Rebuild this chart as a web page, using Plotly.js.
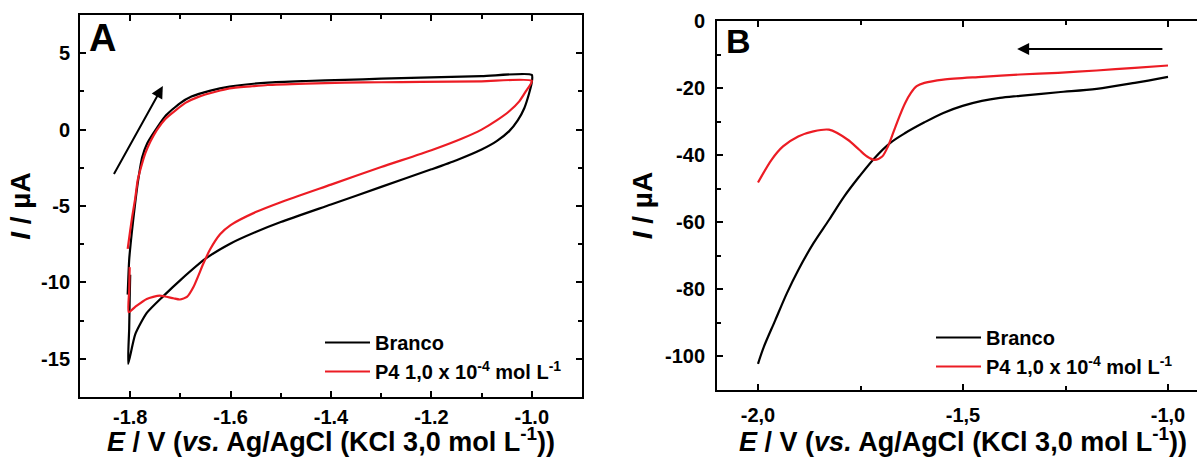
<!DOCTYPE html>
<html>
<head>
<meta charset="utf-8">
<script src="https://cdn.plot.ly/plotly-3.0.1.min.js"></script>
<style>
html, body { margin: 0; padding: 0; overflow: hidden; background: #fff; }
#chart { width: 1215px; height: 457px; }
</style>
</head>
<body>
<div id="chart"></div>
<script>
// ---------- Panel A: cyclic voltammograms ----------
const seriesNames = ['Branco', 'P4 1,0 x 10<sup>-4</sup> mol L<sup>-1</sup>'];

const aBrancoE = [-1.805, -1.802, -1.797, -1.791, -1.785, -1.776, -1.766, -1.754, -1.731, -1.701, -1.678, -1.640, -1.602, -1.526, -1.450, -1.373, -1.300, -1.221, -1.100, -1.000,
  -1.000, -1.006, -1.015, -1.028, -1.045, -1.070, -1.100, -1.150, -1.200, -1.300, -1.400, -1.500, -1.550, -1.600, -1.650, -1.700, -1.734, -1.767, -1.790, -1.804,
  -1.802, -1.801, -1.800];
const aBrancoI = [-10.8, -8.5, -6.8, -5.05, -3.5, -1.8, -0.9, -0.25, 0.85, 1.72, 2.16, 2.55, 2.81, 3.08, 3.18, 3.25, 3.33, 3.40, 3.50, 3.58,
  3.10, 2.3, 1.4, 0.6, -0.1, -0.75, -1.3, -2.0, -2.6, -3.75, -4.9, -6.05, -6.7, -7.45, -8.45, -9.85, -10.9, -12.0, -13.4, -15.33,
  -13.0, -11.0, -9.5];

const aP4E = [-1.805, -1.800, -1.796, -1.790, -1.785, -1.777, -1.770, -1.760, -1.747, -1.730, -1.709, -1.690, -1.663, -1.630, -1.602, -1.560, -1.526, -1.450, -1.373, -1.300, -1.221, -1.100, -1.000,
  -1.012, -1.025, -1.045, -1.070, -1.100, -1.140, -1.200, -1.300, -1.400, -1.500, -1.550, -1.600, -1.621, -1.641, -1.654, -1.674, -1.687, -1.701, -1.714, -1.741, -1.767, -1.790, -1.803,
  -1.802, -1.801];
const aP4I = [-7.8, -6.6, -5.7, -4.5, -3.3, -2.3, -1.56, -0.8, -0.03, 0.7, 1.28, 1.75, 2.16, 2.48, 2.70, 2.83, 2.92, 3.01, 3.08, 3.10, 3.12, 3.16, 3.19,
  2.5, 1.85, 1.2, 0.6, 0.0, -0.6, -1.35, -2.45, -3.6, -4.75, -5.4, -6.25, -6.85, -7.85, -8.75, -10.3, -10.95, -11.12, -11.04, -10.86, -11.08, -11.6, -11.95,
  -10.5, -9.0];

const aTickVals = [-1.8, -1.6, -1.4, -1.2, -1.0];
const aTickText = ['-1.8', '-1.6', '-1.4', '-1.2', '-1.0'];
const aMinorX = [-1.9, -1.7, -1.5, -1.3, -1.1, -0.9];
const aYTickVals = [5, 0, -5, -10, -15];
const aYTickText = ['5', '0', '-5', '-10', '-15'];
const aMinorY = [7.5, 2.5, -2.5, -7.5, -12.5, -17.5];

// ---------- Panel B: linear sweep voltammograms ----------
const bBrancoE = [-1.000, -1.081, -1.174, -1.268, -1.361, -1.410, -1.454, -1.501, -1.548, -1.594, -1.641, -1.678, -1.716, -1.753, -1.790, -1.827, -1.865, -1.902, -1.930, -1.958, -1.986, -2.000];
const bBrancoI = [-16.65, -18.44, -20.24, -21.24, -22.3, -22.9, -23.8, -25.3, -27.4, -30.2, -33.4, -36.39, -40.88, -46.36, -52.34, -59.32, -66.30, -74.28, -81.26, -89.23, -97.21, -102.2];

const bP4E = [-1.000, -1.081, -1.174, -1.268, -1.361, -1.454, -1.548, -1.594, -1.613, -1.627, -1.641, -1.655, -1.669, -1.683, -1.697, -1.716, -1.734, -1.753, -1.781, -1.827, -1.865, -1.902, -1.939, -1.967, -2.000];
const bP4I = [-13.26, -13.96, -14.76, -15.45, -15.95, -16.65, -17.45, -18.44, -19.44, -21.44, -24.43, -28.41, -32.90, -37.39, -40.38, -41.38, -40.38, -38.39, -35.39, -32.40, -32.90, -34.40, -37.39, -41.38, -48.16];

const bTickVals = [-2.0, -1.5, -1.0];
const bTickText = ['-2,0', '-1,5', '-1,0'];
const bMinorX = [-1.75, -1.25];
const bYTickVals = [0, -20, -40, -60, -80, -100];
const bYTickText = ['0', '-20', '-40', '-60', '-80', '-100'];
const bMinorY = [-10, -30, -50, -70, -90, -110];

const xTitleText = '<i>E</i> / V (<i>vs.</i> Ag/AgCl (KCl 3,0 mol L<sup>-1</sup>))';
const yTitleText = '<i>I</i> / µA';

const FONT = 'Liberation Sans, Arial, sans-serif';
const BLACK = '#000000';
const RED = '#ec1c24';
const W = 1215, H = 457;

function axisBase(extra) {
  return Object.assign({
    showgrid: false, zeroline: false, showline: true, linecolor: '#000', linewidth: 2,
    mirror: 'allticks', ticks: 'inside', ticklen: 6, tickwidth: 2, tickcolor: '#000',
    tickfont: {family: FONT, size: 20, color: '#000', weight: 'bold'},
    tickmode: 'array', automargin: false, fixedrange: true
  }, extra);
}

const titleFont = {family: FONT, size: 27, color: '#000', weight: 'bold'};
const yTitleFont = {family: FONT, size: 28, color: '#000', weight: 'bold'};

const traces = [
  {x: aBrancoE, y: aBrancoI, xaxis: 'x', yaxis: 'y', mode: 'lines', name: seriesNames[0], legend: 'legend',
   line: {color: BLACK, width: 2.2, shape: 'spline', smoothing: 0.6}},
  {x: aP4E, y: aP4I, xaxis: 'x', yaxis: 'y', mode: 'lines', name: seriesNames[1], legend: 'legend',
   line: {color: RED, width: 2.2, shape: 'spline', smoothing: 0.6}},
  {x: bBrancoE, y: bBrancoI, xaxis: 'x2', yaxis: 'y2', mode: 'lines', name: seriesNames[0], legend: 'legend2',
   line: {color: BLACK, width: 2.2, shape: 'spline', smoothing: 0.9}},
  {x: bP4E, y: bP4I, xaxis: 'x2', yaxis: 'y2', mode: 'lines', name: seriesNames[1], legend: 'legend2',
   line: {color: RED, width: 2.2, shape: 'spline', smoothing: 0.8}}
];

const legendBase = {
  xanchor: 'left', yanchor: 'top', bgcolor: 'rgba(0,0,0,0)', borderwidth: 0,
  font: {family: FONT, size: 20, color: '#000', weight: 'bold'},
  itemwidth: 45, traceorder: 'normal', tracegroupgap: 0, itemclick: false, itemdoubleclick: false
};

const layout = {
  width: W, height: H,
  margin: {l: 0, r: 0, t: 0, b: 0},
  paper_bgcolor: '#fff', plot_bgcolor: '#fff',
  showlegend: true,
  xaxis: axisBase({domain: [80 / W, 582 / W], range: [-1.9, -0.9], anchor: 'y',
    tickvals: aTickVals, ticktext: aTickText, ticklabelstandoff: 1,
    minor: {tickmode: 'array', tickvals: aMinorX, ticks: 'inside', ticklen: 4, tickwidth: 2, tickcolor: '#000'},
    title: {text: xTitleText, font: titleFont, standoff: 7}}),
  yaxis: axisBase({domain: [1 - 397 / H, 1 - 15 / H], range: [-17.5, 7.5], anchor: 'x',
    tickvals: aYTickVals, ticktext: aYTickText, ticklabelstandoff: 4,
    minor: {tickmode: 'array', tickvals: aMinorY, ticks: 'inside', ticklen: 4, tickwidth: 2, tickcolor: '#000'},
    title: {text: yTitleText, font: yTitleFont, standoff: 2}}),
  xaxis2: axisBase({domain: [717 / W, 1209 / W], range: [-2.1, -0.9], anchor: 'y2',
    tickvals: bTickVals, ticktext: bTickText, ticklabelstandoff: 6,
    minor: {tickmode: 'array', tickvals: bMinorX, ticks: 'inside', ticklen: 4, tickwidth: 2, tickcolor: '#000'},
    title: {text: xTitleText, font: titleFont, standoff: 3}}),
  yaxis2: axisBase({domain: [1 - 390 / H, 1 - 21 / H], range: [-110, 0], anchor: 'x2',
    tickvals: bYTickVals, ticktext: bYTickText, ticklabelstandoff: 6,
    minor: {tickmode: 'array', tickvals: bMinorY, ticks: 'inside', ticklen: 4, tickwidth: 2, tickcolor: '#000'},
    title: {text: yTitleText, font: yTitleFont, standoff: 4}}),
  legend: Object.assign({}, legendBase, {x: 320 / W, y: 1 - 323 / H}),
  legend2: Object.assign({}, legendBase, {x: 931 / W, y: 1 - 318 / H}),
  annotations: [
    {xref: 'paper', yref: 'paper', x: 87 / W, y: 1 - 38 / H, xanchor: 'left', yanchor: 'middle', showarrow: false,
     text: 'A', font: {family: FONT, size: 38, color: '#000', weight: 'bold'}},
    {xref: 'paper', yref: 'paper', x: 724 / W, y: 1 - 41 / H, xanchor: 'left', yanchor: 'middle', showarrow: false,
     text: 'B', font: {family: FONT, size: 34, color: '#000', weight: 'bold'}},
    {xref: 'x', yref: 'y', axref: 'x', ayref: 'y', x: -1.735, y: 2.85, ax: -1.834, ay: -3.0, text: '',
     showarrow: true, arrowhead: 2, arrowsize: 1.2, arrowwidth: 2, arrowcolor: '#000'},
    {xref: 'x2', yref: 'y2', axref: 'x2', ayref: 'y2', x: -1.368, y: -8.36, ax: -1.010, ay: -8.36, text: '',
     showarrow: true, arrowhead: 2, arrowsize: 1.2, arrowwidth: 2, arrowcolor: '#000'}
  ]
};

Plotly.newPlot('chart', traces, layout, {staticPlot: true, displayModeBar: false});
</script>
</body>
</html>
